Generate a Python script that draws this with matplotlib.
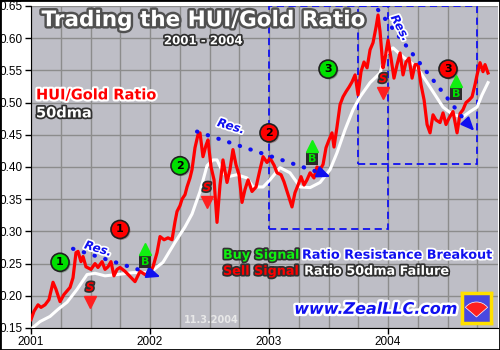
"""HUI/Gold ratio trading chart, 2001-2004, with 50dma and buy/sell signals."""
import matplotlib
matplotlib.use("Agg")
import matplotlib.pyplot as plt
import matplotlib.patheffects as pe
from matplotlib.patches import Rectangle, Wedge

# --- data (decimal year, ratio) ---
red_dates = [2001.000, 2001.025, 2001.059, 2001.084, 2001.118, 2001.151, 2001.185, 2001.210,
             2001.244, 2001.277, 2001.328, 2001.353, 2001.378, 2001.395, 2001.420, 2001.437,
             2001.462, 2001.504, 2001.538, 2001.563, 2001.597, 2001.622, 2001.647, 2001.672,
             2001.697, 2001.723, 2001.748, 2001.790, 2001.832, 2001.874, 2001.916, 2001.958,
             2002.000, 2002.025, 2002.059, 2002.084, 2002.118, 2002.151, 2002.185, 2002.210,
             2002.227, 2002.252, 2002.269, 2002.294, 2002.311, 2002.336, 2002.353, 2002.378,
             2002.403, 2002.420, 2002.445, 2002.471, 2002.487, 2002.513, 2002.538, 2002.563,
             2002.588, 2002.613, 2002.647, 2002.672, 2002.697, 2002.723, 2002.748, 2002.773,
             2002.798, 2002.824, 2002.857, 2002.891, 2002.924, 2002.950, 2002.983, 2003.008,
             2003.042, 2003.067, 2003.101, 2003.126, 2003.160, 2003.193, 2003.218, 2003.244,
             2003.269, 2003.294, 2003.319, 2003.345, 2003.378, 2003.403, 2003.429, 2003.454,
             2003.479, 2003.504, 2003.529, 2003.546, 2003.571, 2003.597, 2003.622, 2003.647,
             2003.672, 2003.697, 2003.723, 2003.748, 2003.773, 2003.798, 2003.824, 2003.849,
             2003.874, 2003.899, 2003.916, 2003.933, 2003.958, 2003.975, 2004.000, 2004.025,
             2004.050, 2004.076, 2004.101, 2004.126, 2004.151, 2004.176, 2004.202, 2004.227,
             2004.252, 2004.277, 2004.303, 2004.328, 2004.353, 2004.378, 2004.403, 2004.437,
             2004.462, 2004.487, 2004.513, 2004.546, 2004.580, 2004.605, 2004.630, 2004.655,
             2004.681, 2004.706, 2004.731, 2004.748, 2004.773, 2004.798, 2004.815, 2004.840]
red_values = [0.163, 0.176, 0.186, 0.182, 0.186, 0.194, 0.221, 0.210,
              0.191, 0.202, 0.213, 0.228, 0.267, 0.269, 0.253, 0.261,
              0.245, 0.241, 0.250, 0.244, 0.253, 0.241, 0.245, 0.253,
              0.231, 0.241, 0.244, 0.238, 0.230, 0.222, 0.238, 0.233,
              0.235, 0.245, 0.267, 0.292, 0.287, 0.290, 0.287, 0.315,
              0.331, 0.340, 0.350, 0.357, 0.369, 0.383, 0.396, 0.430,
              0.450, 0.453, 0.416, 0.434, 0.442, 0.400, 0.380, 0.314,
              0.372, 0.411, 0.376, 0.396, 0.427, 0.403, 0.388, 0.345,
              0.365, 0.380, 0.362, 0.369, 0.396, 0.416, 0.407, 0.414,
              0.403, 0.391, 0.388, 0.377, 0.357, 0.338, 0.360, 0.372,
              0.385, 0.372, 0.380, 0.391, 0.383, 0.400, 0.396, 0.404,
              0.430, 0.442, 0.453, 0.431, 0.462, 0.497, 0.509, 0.517,
              0.524, 0.532, 0.543, 0.512, 0.548, 0.563, 0.554, 0.582,
              0.593, 0.617, 0.636, 0.610, 0.554, 0.569, 0.597, 0.569,
              0.538, 0.559, 0.577, 0.543, 0.563, 0.569, 0.538, 0.559,
              0.559, 0.528, 0.504, 0.466, 0.453, 0.481, 0.473, 0.469,
              0.484, 0.466, 0.476, 0.486, 0.453, 0.483, 0.489, 0.500,
              0.504, 0.509, 0.528, 0.543, 0.562, 0.548, 0.559, 0.546]

dma_dates = [2001.017, 2001.076, 2001.160, 2001.227, 2001.303, 2001.387, 2001.471, 2001.538,
             2001.622, 2001.723, 2001.857, 2002.000, 2002.109, 2002.210, 2002.294, 2002.353,
             2002.420, 2002.479, 2002.529, 2002.563, 2002.613, 2002.655, 2002.731, 2002.815,
             2002.866, 2002.950, 2003.008, 2003.092, 2003.176, 2003.261, 2003.345, 2003.429,
             2003.513, 2003.571, 2003.639, 2003.706, 2003.765, 2003.849, 2003.933, 2003.975,
             2004.042, 2004.126, 2004.244, 2004.353, 2004.462, 2004.546, 2004.630, 2004.689,
             2004.748, 2004.790, 2004.840]
dma_values = [0.151, 0.160, 0.168, 0.179, 0.190, 0.210, 0.233, 0.235,
              0.231, 0.233, 0.236, 0.236, 0.252, 0.283, 0.307, 0.327,
              0.362, 0.402, 0.411, 0.411, 0.391, 0.385, 0.388, 0.383,
              0.369, 0.369, 0.380, 0.399, 0.391, 0.369, 0.368, 0.376,
              0.396, 0.422, 0.458, 0.489, 0.509, 0.531, 0.546, 0.574,
              0.585, 0.571, 0.555, 0.524, 0.493, 0.481, 0.478, 0.486,
              0.493, 0.512, 0.531]

year_ticks = [2001, 2002, 2003, 2004]
ratio_ticks = [0.15, 0.20, 0.25, 0.30, 0.35, 0.40, 0.45, 0.50, 0.55, 0.60, 0.65]

# numbered signal circles: (year, ratio, label, colour)
circles = [(2001.244, 0.252, "1", "#00E000"), (2001.748, 0.303, "1", "#FF0000"),
           (2002.252, 0.402, "2", "#00E000"), (2003.000, 0.453, "2", "#FF0000"),
           (2003.496, 0.552, "3", "#00E000"), (2004.504, 0.552, "3", "#FF0000")]
sells = [(2001.496, 0.213), (2002.479, 0.368), (2003.958, 0.537)]
buys = [(2001.958, 0.253), (2003.361, 0.413), (2004.571, 0.514)]
# resistance lines: start, end, arrow tip, label pos, label angle
res_lines = [((2001.353, 0.273), (2002.000, 0.235), (2002.109, 0.228), (2001.563, 0.273), -17),
             ((2002.395, 0.455), (2003.429, 0.391), (2003.538, 0.383), (2002.680, 0.463), -17),
             ((2003.916, 0.644), (2004.655, 0.470), (2004.740, 0.453), (2004.101, 0.616), -62)]
boxes = [(2003.000, 2004.000, 0.303, 0.65), (2003.748, 2004.748, 0.404, 0.65)]

BLUE = "#1010F0"
GRAY_BG = "#BEBEC6"
FONT = "DejaVu Sans"

fig = plt.figure(figsize=(5, 3.5), dpi=100)
ax = fig.add_axes([31 / 500, 22 / 350, 467 / 500, 322 / 350])
ax.set_facecolor(GRAY_BG)
ax.set_xlim(2001, 2004.924)
ax.set_ylim(0.15, 0.65)

ax.set_xticks(year_ticks)
ax.set_xticklabels([str(y) for y in year_ticks])
ax.set_xticks([2001 + q / 4 for q in range(16)], minor=True)
ax.set_yticks(ratio_ticks)
ax.set_yticklabels([f"{v:.2f}" for v in ratio_ticks])
ax.grid(which="both", color="#8C8C8C", lw=1)
ax.tick_params(which="minor", length=0)
ax.tick_params(which="major", length=4, width=1, labelsize=8.5, pad=2)
for lab in ax.get_xticklabels() + ax.get_yticklabels():
    lab.set_family("Liberation Sans")
ax.set_axisbelow(True)
for s in ["top", "right"]:
    ax.spines[s].set_visible(False)

# dashed boxes
for x0, x1, y0, y1 in boxes:
    ax.add_patch(Rectangle((x0, y0), x1 - x0, y1 - y0, fill=False, ec=BLUE,
                           ls=(0, (4, 2.5)), lw=1.3, zorder=2))

ax.plot(dma_dates, dma_values, color="white", lw=2.2, zorder=3)
ax.plot(red_dates, red_values, color="#FF0000", lw=2.3, zorder=4)

stroke_w = [pe.withStroke(linewidth=2.5, foreground="white")]
stroke_d = [pe.withStroke(linewidth=2.5, foreground="#303030")]

# resistance lines, arrows, labels
for (x0, y0), (x1, y1), (xa, ya), (xl, yl), ang in res_lines:
    ax.plot([x0, x1], [y0, y1], ls=(0, (0.1, 2.6)), color=BLUE, lw=3,
            dash_capstyle="round", zorder=5)
    ax.annotate("", xy=(xa, ya), xytext=(x1, y1),
                arrowprops=dict(arrowstyle="-|>,head_length=0.8,head_width=0.35",
                                color=BLUE, lw=1.5), zorder=5)
    ax.text(xl, yl, "Res.", color=BLUE, fontsize=8.5, fontweight="bold", style="italic",
            family=FONT, rotation=ang, ha="center", va="center", path_effects=stroke_w, zorder=6)

# numbered circles
for x, y, lab, col in circles:
    ax.plot(x, y, "o", ms=13, mfc=col, mec="#202020", mew=1.2, zorder=6,
            path_effects=[pe.SimplePatchShadow(offset=(1, -1)), pe.Normal()])
    ax.text(x, y, lab, ha="center", va="center", fontsize=8, fontweight="bold",
            family=FONT, color="black", zorder=7)

# sell markers
for x, y in sells:
    ax.text(x, y, "S", ha="center", va="center", fontsize=8.5, fontweight="bold",
            style="italic", family=FONT, color="#FF0000", path_effects=stroke_d, zorder=6)
    ax.plot(x, y - 0.022, "v", ms=8, color="#FF2020", zorder=6)

# buy markers
for x, y in buys:
    ax.text(x, y, "B", ha="center", va="center", fontsize=8, fontweight="bold",
            family=FONT, color="#00E000", zorder=6,
            bbox=dict(boxstyle="square,pad=0.12", fc="#2A2A2A", ec="none"))
    ax.plot(x, y + 0.019, "^", ms=9, color="#10F010", zorder=6)

# titles
ax.text(2002.445, 0.628, "Trading the HUI/Gold Ratio", ha="center", va="center",
        fontsize=15.5, fontweight="bold", family=FONT, color="white",
        path_effects=[pe.withStroke(linewidth=3.5, foreground="#505050")], zorder=8)
ax.text(2002.445, 0.596, "2001 - 2004", ha="center", va="center", fontsize=8.5,
        fontweight="bold", family=FONT, color="white", path_effects=stroke_d, zorder=8)
ax.text(2001.042, 0.512, "HUI/Gold Ratio", ha="left", va="center", fontsize=10.5,
        fontweight="bold", family=FONT, color="#FF0000",
        path_effects=[pe.withStroke(linewidth=3, foreground="white")], zorder=8)
ax.text(2001.042, 0.484, "50dma", ha="left", va="center", fontsize=10.5,
        fontweight="bold", family=FONT, color="white", path_effects=stroke_d, zorder=8)

# signal legend
ax.text(2002.613, 0.263, "Buy Signal", ha="left", va="center", fontsize=9.2,
        fontweight="bold", family=FONT, color="#10F010", path_effects=stroke_d, zorder=8)
ax.text(2003.277, 0.263, "Ratio Resistance Breakout", ha="left", va="center", fontsize=9.2,
        fontweight="bold", family=FONT, color=BLUE, path_effects=stroke_w, zorder=8)
ax.text(2002.613, 0.238, "Sell Signal", ha="left", va="center", fontsize=9.2,
        fontweight="bold", family=FONT, color="#FF0000", path_effects=stroke_d, zorder=8)
ax.text(2003.295, 0.238, "Ratio 50dma Failure", ha="left", va="center", fontsize=9.2,
        fontweight="bold", family=FONT, color="white", path_effects=stroke_d, zorder=8)

ax.text(2002.513, 0.163, "11.3.2004", ha="center", va="center", fontsize=7,
        fontweight="bold", family=FONT, color="#E8E8E8", zorder=8)
ax.text(2003.899, 0.179, "www.ZealLLC.com", ha="center", va="center", fontsize=11.5,
        fontweight="bold", style="italic", family=FONT, color=BLUE,
        path_effects=[pe.withStroke(linewidth=3.5, foreground="white")], zorder=8)

# small logo in its own square axes
lax = fig.add_axes([462 / 500, 27 / 350, 29 / 500, 30 / 350])
lax.set_xlim(0, 1)
lax.set_ylim(0, 1)
lax.set_facecolor("#4848E0")
for s in lax.spines.values():
    s.set_edgecolor("#FFE000")
    s.set_linewidth(2.5)
lax.set_xticks([])
lax.set_yticks([])
lax.add_patch(Wedge((0.5, 0.2), 0.5, 40, 140, fc="#FF2020", ec="white", lw=0.5))

fig.patches.append(Rectangle((0, 0), 1, 1, transform=fig.transFigure, fill=False,
                             ec="black", lw=2))
fig.savefig("out.png", dpi=100)
